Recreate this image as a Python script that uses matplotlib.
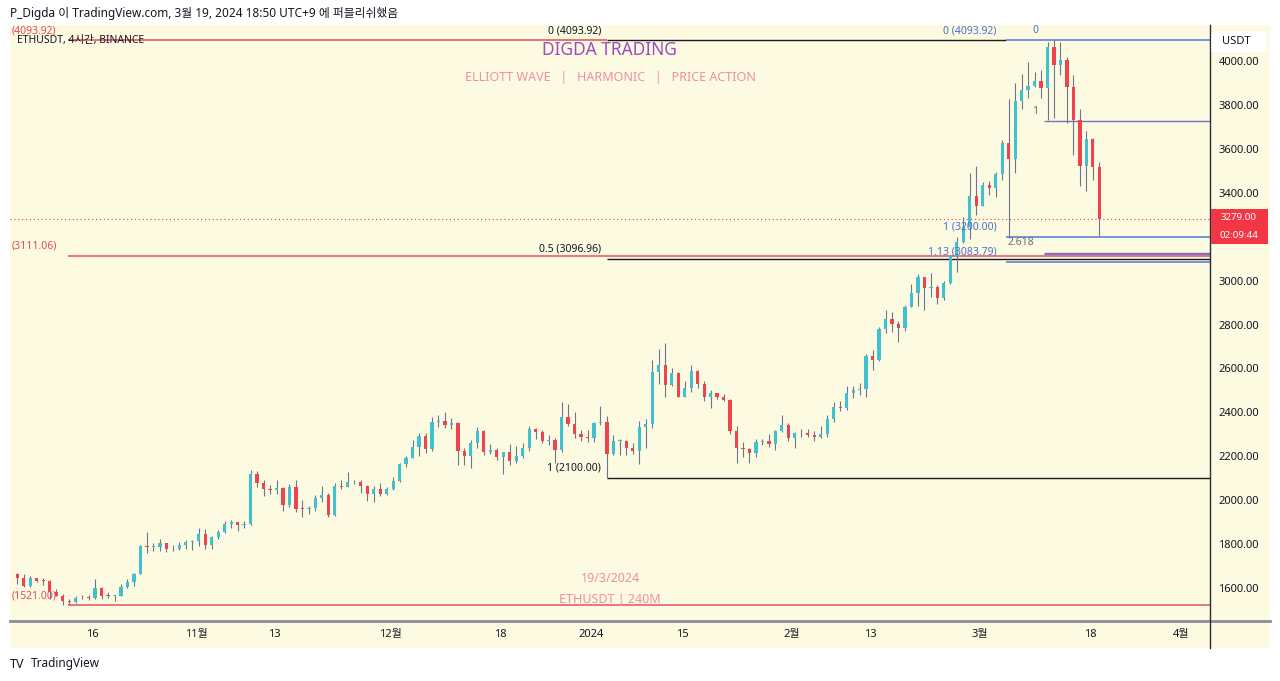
import matplotlib.pyplot as plt
import matplotlib.dates as mdates
from matplotlib.patches import Rectangle, FancyBboxPatch
from matplotlib.lines import Line2D
import pandas as pd
import numpy as np

plt.rcParams['font.family'] = ['Noto Sans', 'Noto Sans CJK KR', 'DejaVu Sans']

# ETHUSDT, daily OHLC (Oct 4 2023 .. Mar 19 2024)
dates = pd.date_range('2023-10-04', '2024-03-19', freq='D')
first_open = 1663

closes = [
    # Oct 4-31
    1647, 1611, 1645, 1633, 1632, 1580, 1566, 1539, 1538, 1553, 1557, 1555, 1600, 1566,
    1564, 1566, 1604, 1628, 1664, 1790, 1786, 1788, 1803, 1779, 1776, 1794, 1810, 1815,
    # Nov
    1845, 1798, 1832, 1857, 1893, 1899, 1886, 1890, 2120, 2077, 2052, 2045, 2055, 1978, 2060,
    1962, 1960, 1963, 2011, 2022, 1933, 2064, 2062, 2081, 2083, 2063, 2027, 2049, 2029, 2052,
    # Dec
    2087, 2166, 2193, 2242, 2293, 2233, 2358, 2359, 2342, 2353, 2225, 2202, 2260, 2317, 2220,
    2228, 2196, 2218, 2178, 2202, 2240, 2326, 2312, 2268, 2272, 2230, 2379, 2346, 2300, 2290, 2282,
    # Jan
    2352, 2356, 2210, 2268, 2269, 2240, 2222, 2332, 2345, 2585, 2618, 2524, 2578, 2472, 2512,
    2587, 2529, 2469, 2489, 2470, 2455, 2313, 2240, 2235, 2217, 2267, 2268, 2257, 2316, 2343, 2282,
    # Feb
    2304, 2308, 2296, 2289, 2300, 2372, 2425, 2420, 2486, 2500, 2507, 2658, 2640, 2778, 2823,
    2802, 2785, 2881, 2943, 3015, 2967, 2971, 2922, 2990, 3112, 3178, 3242, 3385, 3340,
    # Mar 1-19
    3435, 3420, 3487, 3627, 3555, 3817, 3870, 3888, 3911, 3878, 4066, 3980, 4004, 3880, 3732,
    3523, 3644, 3518, 3279,
]
highs = [
    1667, 1662, 1655, 1648, 1644, 1637, 1596, 1574, 1548, 1562, 1570, 1567, 1640, 1605,
    1584, 1570, 1620, 1640, 1670, 1795, 1855, 1805, 1822, 1805, 1795, 1810, 1820, 1820,
    1872, 1868, 1835, 1865, 1905, 1910, 1900, 1905, 2137, 2135, 2090, 2070, 2090, 2060, 2072,
    2090, 2002, 1974, 2022, 2065, 2034, 2077, 2090, 2130, 2092, 2090, 2070, 2065, 2077, 2058,
    2105, 2170, 2200, 2275, 2306, 2307, 2380, 2390, 2403, 2375, 2354, 2240, 2275, 2335, 2320,
    2255, 2240, 2220, 2255, 2245, 2260, 2340, 2330, 2320, 2295, 2285, 2445, 2440, 2400, 2320, 2322,
    2355, 2431, 2385, 2295, 2280, 2275, 2260, 2360, 2370, 2640, 2690, 2717, 2600, 2585, 2545,
    2615, 2595, 2545, 2500, 2485, 2482, 2460, 2340, 2265, 2240, 2278, 2280, 2300, 2320, 2390, 2350,
    2310, 2325, 2325, 2315, 2340, 2390, 2445, 2450, 2520, 2520, 2535, 2665, 2685, 2790, 2865,
    2855, 2815, 2890, 2985, 3030, 3015, 3035, 2980, 3000, 3115, 3200, 3290, 3490, 3520,
    3450, 3455, 3495, 3640, 3825, 3900, 3940, 3995, 3950, 3960, 4085, 4094, 4085, 4020, 3935,
    3780, 3680, 3650, 3540,
]
lows = [
    1620, 1606, 1604, 1628, 1616, 1551, 1564, 1525, 1521, 1534, 1550, 1547, 1552, 1550,
    1555, 1543, 1563, 1600, 1611, 1663, 1760, 1770, 1770, 1764, 1771, 1772, 1780, 1775,
    1793, 1777, 1780, 1825, 1851, 1873, 1858, 1872, 1885, 2060, 2020, 2030, 2030, 1950, 1970,
    1945, 1922, 1937, 1950, 1990, 1925, 1930, 2052, 2060, 2073, 2033, 1995, 1993, 2020, 2023,
    2047, 2084, 2150, 2190, 2200, 2213, 2226, 2335, 2330, 2325, 2160, 2160, 2145, 2240, 2205,
    2210, 2185, 2120, 2160, 2170, 2190, 2225, 2280, 2260, 2250, 2170, 2220, 2340, 2285, 2270, 2265,
    2265, 2343, 2100, 2207, 2207, 2205, 2210, 2165, 2240, 2330, 2530, 2470, 2520, 2470, 2470,
    2495, 2510, 2450, 2420, 2460, 2450, 2300, 2168, 2195, 2170, 2195, 2250, 2243, 2228, 2310, 2270,
    2240, 2290, 2290, 2270, 2285, 2290, 2355, 2405, 2410, 2465, 2480, 2470, 2595, 2635, 2760,
    2765, 2720, 2770, 2880, 2885, 2865, 2925, 2895, 2910, 2985, 3040, 3170, 3190, 3300,
    3340, 3390, 3380, 3460, 3200, 3490, 3780, 3830, 3880, 3830, 3730, 3740, 3935, 3720, 3570,
    3430, 3410, 3460, 3205,
]

opens = [first_open] + closes[:-1]

last_price = 3279.00
tick_prices = [1600, 1800, 2000, 2200, 2400, 2600, 2800, 3000, 3200, 3400, 3600, 3800, 4000]
tick_dates = ['2023-10-16', '2023-11-01', '2023-11-13', '2023-12-01', '2023-12-18', '2024-01-01',
              '2024-01-15', '2024-02-01', '2024-02-13', '2024-03-01', '2024-03-18', '2024-04-01']
tick_labels = ['16', '11월', '13', '12월', '18', '2024', '15', '2월', '13', '3월', '18', '4월']

UP = '#3fc1cf'
DOWN = '#f0424f'
WICK = '#6c7590'
BG = '#fdfae2'
TXT = '#131722'


def fx(px):
    return px / 1280


def fy(py):
    return 1 - py / 681


fig = plt.figure(figsize=(12.8, 6.81), dpi=100)
fig.patch.set_facecolor('white')
fig.patches.append(Rectangle((fx(10), fy(648)), fx(1260), 623 / 681, transform=fig.transFigure,
                             facecolor=BG, edgecolor='none', zorder=-10))

ax = fig.add_axes([fx(10), fy(621), fx(1200), 596 / 681])
ax.set_facecolor('none')
ax.set_zorder(2)

x = mdates.date2num(dates) + 0.4
o = np.array(opens, dtype=float)
c = np.array(closes, dtype=float)
h = np.array(highs, dtype=float)
l = np.array(lows, dtype=float)
up = c >= o
cols = np.where(up, UP, DOWN)

ax.vlines(x, l, h, color=WICK, linewidth=0.8, zorder=2)
body_low = np.minimum(o, c)
body_h = np.maximum(np.abs(c - o), 4)
ax.bar(x, body_h, bottom=body_low, width=0.5, color=cols, edgecolor='none', zorder=3)

d = lambda s: mdates.date2num(pd.Timestamp(s))
x_left = d('2023-10-16') - 82 / 6.44
x_right = d('2024-03-18') + 119 / 6.44
ax.set_xlim(x_left, x_right)
ax.set_ylim(1450, 4164)

# fib / level lines
red = '#e24c59'
ax.hlines(4093.92, d('2023-10-12 06:00'), d('2024-01-03 08:00'), color=red, lw=1.1, zorder=1)
ax.hlines([3111.06, 1521.00], d('2023-10-12 06:00'), x_right, color='#ea7581', lw=1.4, zorder=1)
ax.hlines([4093.92, 3096.96, 2100.00], d('2024-01-03 08:00'),
          [d('2024-03-04 22:00'), x_right, x_right], color='#1b1b1b', lw=1.0, zorder=1)
ax.hlines([4093.92, 3200.00, 3083.79], d('2024-03-04 22:00'), x_right, color='#5f83d8', lw=1.2, zorder=1)
ax.hlines([3727, 3127, 3121], d('2024-03-10 20:00'), x_right, color='#7d6ec4', lw=1.0, zorder=1)
ax.axhline(last_price, color='#f23645', lw=0.8, ls=(0, (1, 2.5)), zorder=1)

fs = 7.5
ax.text(d('2023-10-03 12:00'), 4093.92 + 18, '(4093.92)', color=red, fontsize=fs, ha='left', va='bottom')
ax.text(d('2023-10-03 12:00'), 3111.06 + 20, '(3111.06)', color=red, fontsize=fs, ha='left', va='bottom')
ax.text(d('2023-10-03 12:00'), 1521.00 + 18, '(1521.00)', color=red, fontsize=fs, ha='left', va='bottom')
ax.text(d('2024-01-02 12:00'), 4093.92 + 18, '0 (4093.92)', color=TXT, fontsize=fs, ha='right', va='bottom')
ax.text(d('2024-01-02 12:00'), 3096.96 + 20, '0.5 (3096.96)', color=TXT, fontsize=fs, ha='right', va='bottom')
ax.text(d('2024-01-02 12:00'), 2100.00 + 20, '1 (2100.00)', color=TXT, fontsize=fs, ha='right', va='bottom')
blue = '#4a72d0'
ax.text(d('2024-03-03 12:00'), 4093.92 + 18, '0 (4093.92)', color=blue, fontsize=fs, ha='right', va='bottom')
ax.text(d('2024-03-09 12:00'), 4093.92 + 18, '0', color=blue, fontsize=fs, ha='center', va='bottom')
ax.text(d('2024-03-03 12:00'), 3200.00 + 20, '1 (3200.00)', color=blue, fontsize=fs, ha='right', va='bottom')
ax.text(d('2024-03-03 12:00'), 3083.79 + 20, '1.13 (3083.79)', color=blue, fontsize=fs, ha='right', va='bottom')
ax.text(d('2024-03-09 12:00'), 3727 + 20, '1', color='#6a6f80', fontsize=fs, ha='center', va='bottom')
ax.text(d('2024-03-05 06:00'), 3127 + 22, '2.618', color='#6a6f80', fontsize=fs, ha='left', va='bottom')

# axes styling
for sp in ax.spines.values():
    sp.set_visible(False)
ax.yaxis.tick_right()
ax.set_yticks(tick_prices)
ax.set_yticklabels([f'{p:.2f}' for p in tick_prices])
ax.tick_params(axis='y', length=0, pad=6, labelsize=8, labelcolor=TXT)
ax.set_xticks([d(t) for t in tick_dates])
ax.set_xticklabels(tick_labels)
ax.tick_params(axis='x', length=0, pad=6, labelsize=8, labelcolor=TXT)
for lab in ax.get_xticklabels():
    if lab.get_text() == '2024':
        lab.set_fontweight('bold')

fig.lines.append(Line2D([fx(10), fx(1270)], [fy(621), fy(621)], transform=fig.transFigure,
                        color='#8a8d96', lw=2))
fig.lines.append(Line2D([fx(1210), fx(1210)], [fy(25), fy(648)], transform=fig.transFigure,
                        color='#2a2e39', lw=1))

# price label on the right axis
fig.patches.append(Rectangle((fx(1211), fy(244)), fx(57), 35 / 681, transform=fig.transFigure,
                             facecolor='#f23645', edgecolor='none', zorder=5))
fig.text(fx(1239), fy(217), f'{last_price:.2f}', color='white', fontsize=7, ha='center', va='center', zorder=6)
fig.text(fx(1239), fy(235), '02:09:44', color='white', fontsize=7, ha='center', va='center', zorder=6)
fig.patches.append(FancyBboxPatch((fx(1214), fy(51)), fx(50), 18 / 681, transform=fig.transFigure,
                                  boxstyle='round,pad=0.002', facecolor='white', edgecolor='none', zorder=5))
fig.text(fx(1222), fy(42), 'USDT', color=TXT, fontsize=8, ha='left', va='center', zorder=6)

# titles / watermark
fig.text(fx(10), fy(13), 'P_Digda 이 TradingView.com, 3월 19, 2024 18:50 UTC+9 에 퍼블리쉬했음',
         color=TXT, fontsize=8.5, ha='left', va='center')
fig.text(fx(17), fy(40), 'ETHUSDT, 4시간, BINANCE', color=TXT, fontsize=7.5, ha='left', va='center')
fig.text(fx(609), fy(50), 'DIGDA TRADING', color='#9c4dbf', fontsize=12.5, ha='center', va='center')
fig.text(fx(610), fy(77), 'ELLIOTT WAVE   |   HARMONIC   |   PRICE ACTION', color='#ef8fa4',
         fontsize=9, ha='center', va='center')
fig.text(fx(610), fy(579), '19/3/2024', color='#ef8fa4', fontsize=9, ha='center', va='center')
fig.text(fx(610), fy(600), 'ETHUSDT | 240M', color='#ef8fa4', fontsize=9, ha='center', va='center')
fig.text(fx(10), fy(664), 'TV', color='#131722', fontsize=9, fontweight='bold', ha='left', va='center')
fig.text(fx(31), fy(664), 'TradingView', color='#131722', fontsize=8.5, ha='left', va='center')

fig.savefig('out.png', dpi=100)
